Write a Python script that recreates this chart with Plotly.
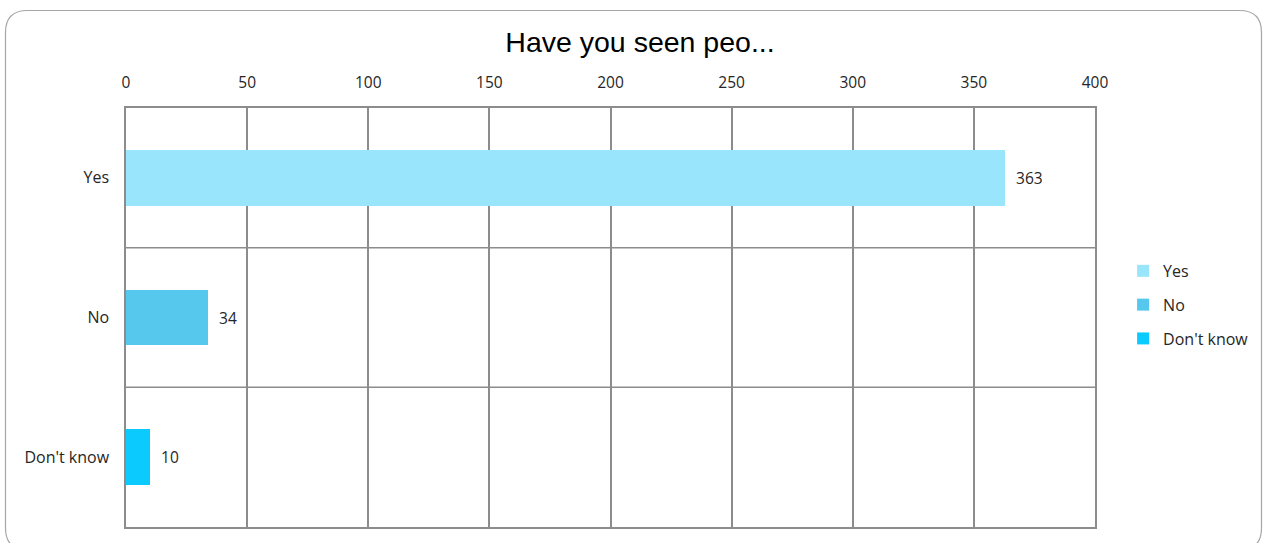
import plotly.graph_objects as go

categories = ["Yes", "No", "Don't know"]
values = [363, 34, 10]
colors = ["#99E5FC", "#56C8EE", "#0BCBFE"]
x_ticks = [0, 50, 100, 150, 200, 250, 300, 350, 400]
title = "Have you seen peo..."

W, H = 1263, 543
L, R, T, B = 126, 168, 108, 16
pw, ph = W - L - R, H - T - B

fig = go.Figure()
for c, v, col in zip(categories, values, colors):
    fig.add_trace(go.Bar(
        y=[c], x=[v], orientation="h", name=c, marker=dict(color=col, line=dict(width=0)),
        width=0.4, text=[str(v)], texttemplate="  %{text}", textposition="outside", cliponaxis=False,
        textfont=dict(size=15.5, color="#262626"), legendgroup=c,
    ))

def P(x, y):
    a = (x - L) / pw
    b = (H - B - y) / ph
    return f"{a:.5f},{b:.5f}"

x0, y0, x1, y1, r = 5.5, 10.5, 1261.5, 550, 22
path = (f"M {P(x0 + r, y0)} L {P(x1 - r, y0)} Q {P(x1, y0)} {P(x1, y0 + r)} "
        f"L {P(x1, y1 - r)} Q {P(x1, y1)} {P(x1 - r, y1)} "
        f"L {P(x0 + r, y1)} Q {P(x0, y1)} {P(x0, y1 - r)} "
        f"L {P(x0, y0 + r)} Q {P(x0, y0)} {P(x0 + r, y0)} Z")
shapes = [dict(type="path", xref="paper", yref="paper", path=path,
               line=dict(color="#A6A6A6", width=1.2), layer="below")]
for yv in [0.5, 1.5]:
    shapes.append(dict(type="line", xref="paper", yref="y", x0=0, x1=1, y0=yv, y1=yv,
                       line=dict(color="#8C8C8C", width=1.5), layer="below"))

fig.update_layout(
    width=W, height=H, margin=dict(l=L, r=R, t=T, b=B, autoexpand=False),
    paper_bgcolor="white", plot_bgcolor="white",
    font=dict(family="Open Sans, Liberation Sans, sans-serif", size=15.5, color="#262626"),
    title=dict(text=title, x=640 / W, xref="container", xanchor="center", y=1 - 42 / H,
               yanchor="middle",
               font=dict(family="Liberation Sans, Arial, sans-serif", size=28.5, color="#000000")),
    barmode="overlay", bargap=0,
    xaxis=dict(side="top", range=[0, 400], tickvals=x_ticks, showgrid=True, gridcolor="#8C8C8C",
               gridwidth=1.5, zeroline=False, showline=True, linecolor="#8C8C8C", linewidth=1.5,
               mirror=True, ticks="", ticklabelstandoff=12, automargin=False,
               tickfont=dict(size=15.5, color="#262626")),
    yaxis=dict(categoryorder="array", categoryarray=categories, autorange="reversed",
               showgrid=False, zeroline=False, showline=True, linecolor="#8C8C8C", linewidth=1.5,
               mirror=True, ticks="", ticklabelstandoff=12, automargin=False,
               tickfont=dict(size=16, color="#262626")),
    legend=dict(x=1.029, xanchor="left", y=0.53, yanchor="middle", traceorder="grouped",
                tracegroupgap=10, font=dict(size=16, color="#262626"), itemwidth=30,
                bgcolor="rgba(0,0,0,0)"),
    shapes=shapes,
    showlegend=True,
)

fig.write_html("out.html", config={"displayModeBar": False},
               post_script="document.body.style.margin='0';document.body.style.overflow='hidden';")
